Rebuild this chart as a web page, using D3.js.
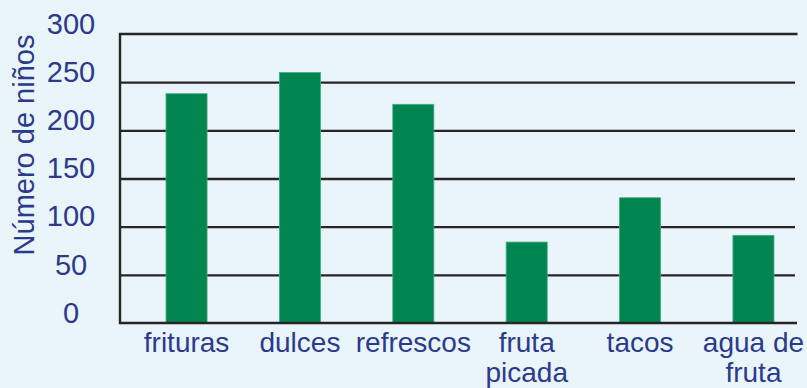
<!DOCTYPE html>
<html>
<head>
<meta charset="utf-8">
<script src="https://cdn.jsdelivr.net/npm/d3@7"></script>
<style>
  html, body { margin: 0; padding: 0; background: #eaf4fb; }
  svg { display: block; }
</style>
</head>
<body>
<svg id="chart" width="807" height="388"></svg>
<script>
// Snacks bought by children, count per item
const categories = ["frituras", "dulces", "refrescos", "fruta picada", "tacos", "agua de fruta"];
const categoryLines = [["frituras"], ["dulces"], ["refrescos"], ["fruta", "picada"], ["tacos"], ["agua de", "fruta"]];
const values = [238, 260, 227, 84, 130, 91];
const yTicks = [0, 50, 100, 150, 200, 250, 300];
const yTitle = "Número de niños";

const W = 807, H = 388;
const plotLeft = 120, plotRight = 795, plotTop = 34, plotBottom = 323;
const textColor = "#2b3a8c";
const font = "'Liberation Sans', Arial, sans-serif";

const svg = d3.select("#chart");
svg.append("rect").attr("width", W).attr("height", H).attr("fill", "#eaf4fb");

const y = d3.scaleLinear().domain([0, 300]).range([plotBottom, plotTop]);
const x = d3.scaleBand()
  .domain(categories)
  .range([plotLeft, 820])
  .paddingInner(0.638)
  .paddingOuter(0.406);

// horizontal grid lines
const grid = svg.append("g")
  .attr("transform", `translate(${plotLeft},0)`)
  .call(d3.axisLeft(y).tickValues(yTicks.filter(v => v > 0 && v < 300)).tickSize(-(plotRight - plotLeft)).tickFormat(""));
grid.select(".domain").remove();
grid.selectAll("line").attr("stroke", "#262626").attr("stroke-width", 2.4);

// frame: top and left edges
svg.append("line").attr("x1", plotLeft - 1).attr("x2", 797.5).attr("y1", y(300)).attr("y2", y(300))
  .attr("stroke", "#262626").attr("stroke-width", 2.4);
svg.append("line").attr("x1", plotLeft).attr("x2", plotLeft).attr("y1", y(300) - 1).attr("y2", plotBottom + 1)
  .attr("stroke", "#262626").attr("stroke-width", 2.4);

// bars
svg.append("g").selectAll("rect")
  .data(values)
  .join("rect")
  .attr("x", (d, i) => x(categories[i]))
  .attr("width", x.bandwidth())
  .attr("y", d => y(d))
  .attr("height", d => y(0) - y(d))
  .attr("fill", "#008450")
  .attr("stroke", "#3fae7d")
  .attr("stroke-width", 0.8);

// baseline
svg.append("line").attr("x1", plotLeft - 1).attr("x2", 797).attr("y1", plotBottom).attr("y2", plotBottom)
  .attr("stroke", "#262626").attr("stroke-width", 2.4);

// y tick labels
const yAxis = svg.append("g")
  .attr("transform", `translate(${plotLeft},0)`)
  .call(d3.axisLeft(y).tickValues(yTicks).tickSize(0).tickFormat(d3.format("d")));
yAxis.select(".domain").remove();
yAxis.selectAll("text")
  .attr("x", -49)
  .attr("dy", "0.32em")
  .attr("transform", "translate(0,-10)")
  .attr("text-anchor", "middle")
  .attr("fill", textColor)
  .style("font-family", font)
  .style("font-size", "29px");

// category labels
const xAxis = svg.append("g")
  .attr("transform", `translate(0,${plotBottom})`)
  .call(d3.axisBottom(x).tickSize(0).tickFormat(""));
xAxis.select(".domain").remove();
xAxis.selectAll(".tick text")
  .attr("y", 0)
  .attr("dy", 0)
  .attr("fill", textColor)
  .attr("text-anchor", "middle")
  .style("font-family", font)
  .style("font-size", "28px")
  .each(function(d) {
    const lines = categoryLines[categories.indexOf(d)];
    d3.select(this).selectAll("tspan")
      .data(lines)
      .join("tspan")
      .attr("x", 0)
      .attr("y", (l, i) => 28.5 + i * 30)
      .text(l => l);
  });

// y axis title
svg.append("text")
  .attr("transform", `translate(34,145) rotate(-90)`)
  .attr("text-anchor", "middle")
  .attr("fill", textColor)
  .style("font-family", font)
  .style("font-size", "29px")
  .text(yTitle);
</script>
</body>
</html>
